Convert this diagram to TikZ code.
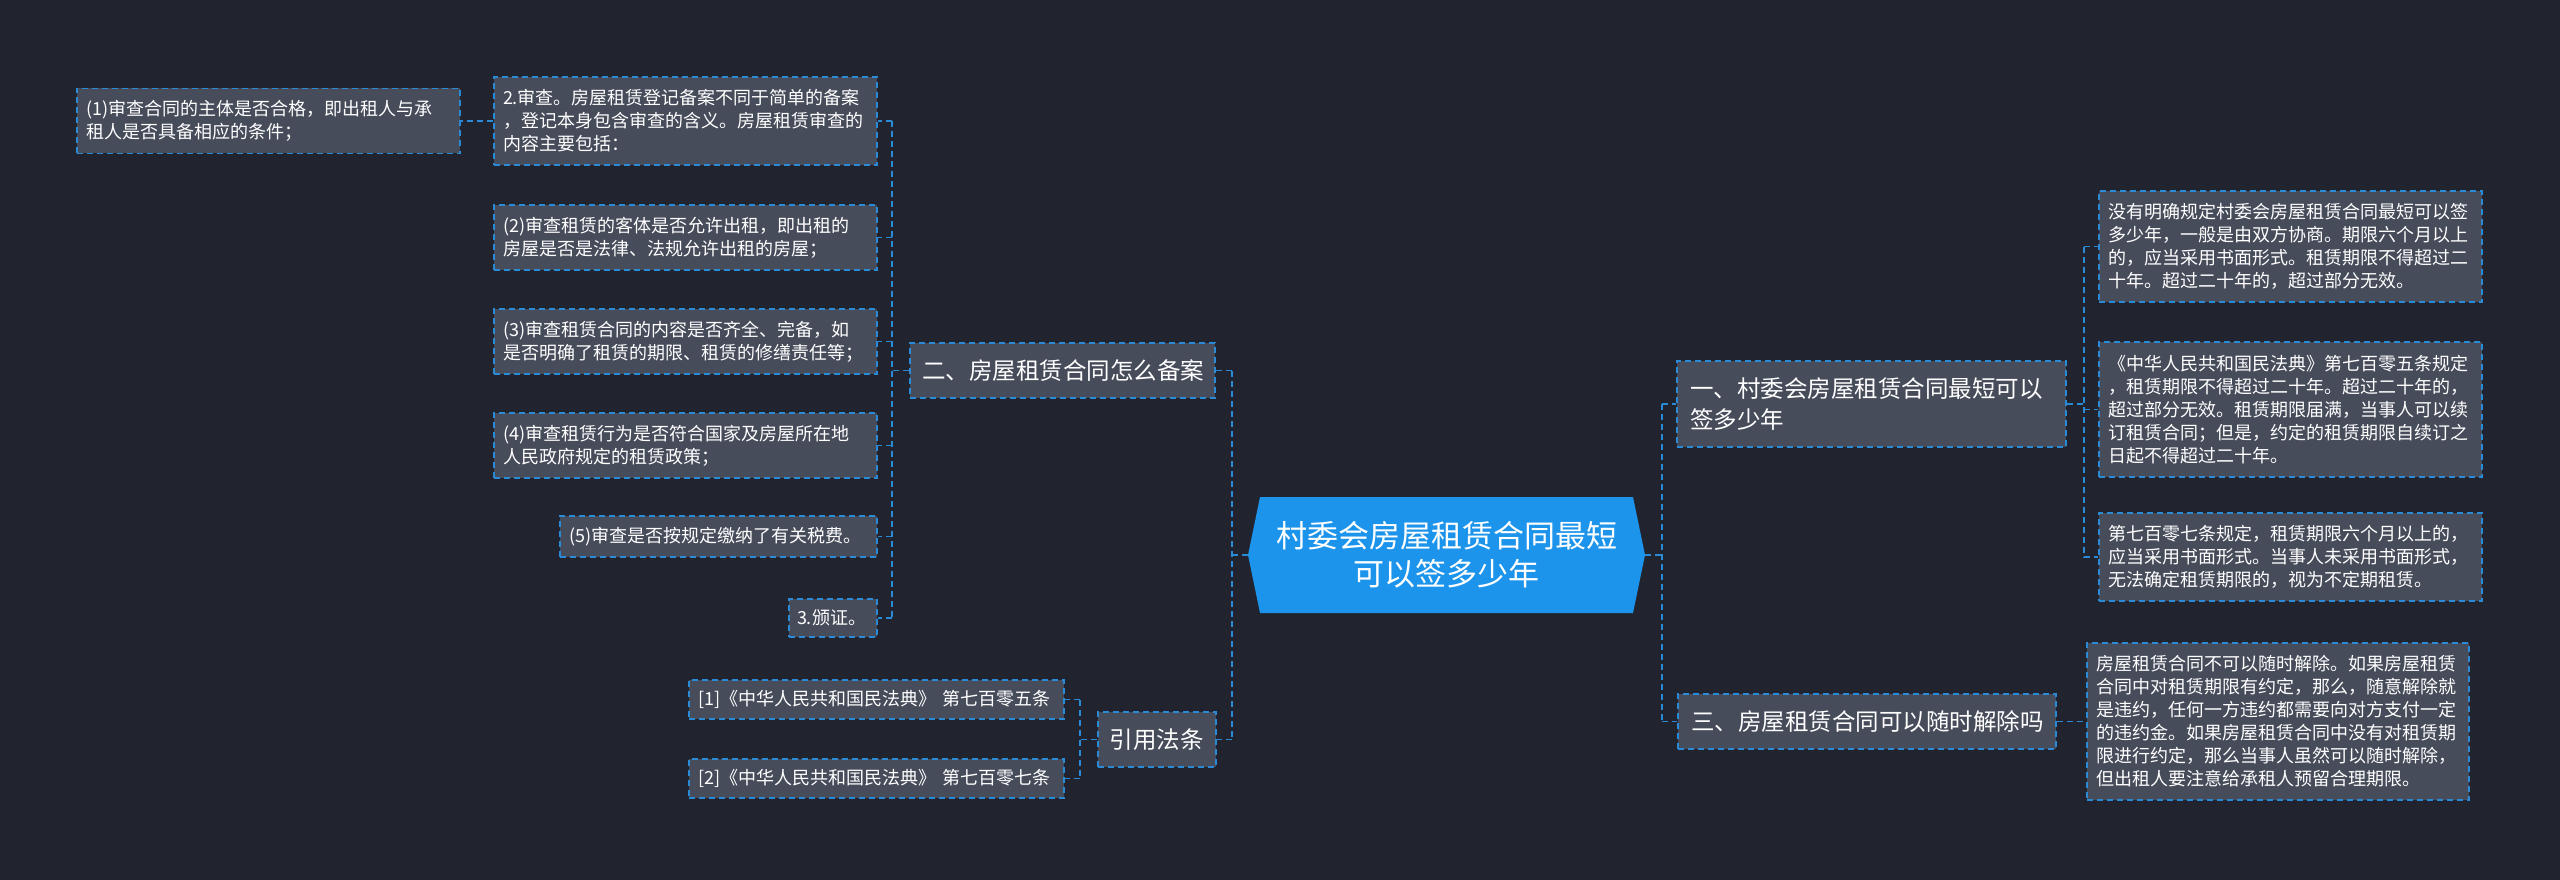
\documentclass[tikz,border=0pt]{standalone}
\usepackage{fontspec}
\newfontfamily\cjk{Noto Sans CJK SC}
\definecolor{bgcol}{RGB}{33,36,47}
\definecolor{boxfill}{RGB}{71,76,91}
\definecolor{lineblue}{RGB}{42,138,214}
\definecolor{centerfill}{RGB}{28,148,235}
\tikzset{
  conn/.style={draw=lineblue, line width=1.8pt, dash pattern=on 6pt off 4pt},
  box/.style={draw=lineblue, line width=1.8pt, dash pattern=on 6pt off 4pt, fill=boxfill, text=white, inner sep=0pt, align=left},
  ltwo/.style={box, font=\cjk\fontsize{18}{23}\selectfont},
  lone/.style={box, font=\cjk\fontsize{23.5}{31}\selectfont},
}
\begin{document}
\begin{tikzpicture}[x=1pt,y=-1pt]
\useasboundingbox (0,0) rectangle (2560,880);
\fill[bgcol] (0,0) rectangle (2560,880);

% center
\fill[centerfill] (1248,555) -- (1260,497) -- (1633,497) -- (1645,555) -- (1633,613) -- (1260,613) -- cycle;
\node[inner sep=0pt, minimum width=397, minimum height=116, align=center, text=white, font=\cjk\fontsize{31}{38}\selectfont] (c) at (1446.5,555) {村委会房屋租赁合同最短\\可以签多少年};

% level 1
\node[lone, minimum width=305, minimum height=55, text width=281] (n2) at (1062.5,370.5) {二、房屋租赁合同怎么备案};
\node[lone, minimum width=118, minimum height=55, text width=95] (n4) at (1157,739.5) {引用法条};
\node[lone, minimum width=389, minimum height=86, text width=363] (n1) at (1871.5,404) {一、村委会房屋租赁合同最短可以\\签多少年};
\node[lone, minimum width=378, minimum height=55, text width=352] (n3) at (1867,721.5) {三、房屋租赁合同可以随时解除吗};

% left level 2
\node[ltwo, minimum width=383, minimum height=88, text width=365] (k0) at (685.5,121) {2.审查。房屋租赁登记备案不同于简单的备案\\，登记本身包含审查的含义。房屋租赁审查的\\内容主要包括：};
\node[ltwo, minimum width=383, minimum height=65, text width=365] (k1) at (268.5,121) {(1)审查合同的主体是否合格，即出租人与承\\租人是否具备相应的条件；};
\node[ltwo, minimum width=383, minimum height=65, text width=365] (k2) at (685.5,237.5) {(2)审查租赁的客体是否允许出租，即出租的\\房屋是否是法律、法规允许出租的房屋；};
\node[ltwo, minimum width=383, minimum height=65, text width=365] (k3) at (685.5,341.5) {(3)审查租赁合同的内容是否齐全、完备，如\\是否明确了租赁的期限、租赁的修缮责任等；};
\node[ltwo, minimum width=383, minimum height=65, text width=365] (k4) at (685.5,445.5) {(4)审查租赁行为是否符合国家及房屋所在地\\人民政府规定的租赁政策；};
\node[ltwo, minimum width=317, minimum height=41, text width=299] (k5) at (718.5,536.5) {(5)审查是否按规定缴纳了有关税费。};
\node[ltwo, minimum width=88, minimum height=38, text width=72] (k6) at (833,618) {3.颁证。};

\node[ltwo, minimum width=375, minimum height=39, text width=357] (r1) at (876.5,699.5) {[1]《中华人民共和国民法典》 第七百零五条};
\node[ltwo, minimum width=375, minimum height=39, text width=357] (r2) at (876.5,778.5) {[2]《中华人民共和国民法典》 第七百零七条};

% right level 2
\node[ltwo, minimum width=383, minimum height=111, text width=365] (A) at (2290.5,246.5) {没有明确规定村委会房屋租赁合同最短可以签\\多少年，一般是由双方协商。期限六个月以上\\的，应当采用书面形式。租赁期限不得超过二\\十年。超过二十年的，超过部分无效。};
\node[ltwo, minimum width=383, minimum height=135, text width=365] (B) at (2290.5,409.5) {《中华人民共和国民法典》第七百零五条规定\\，租赁期限不得超过二十年。超过二十年的，\\超过部分无效。租赁期限届满，当事人可以续\\订租赁合同；但是，约定的租赁期限自续订之\\日起不得超过二十年。};
\node[ltwo, minimum width=383, minimum height=88, text width=365] (C) at (2290.5,557) {第七百零七条规定，租赁期限六个月以上的，\\应当采用书面形式。当事人未采用书面形式，\\无法确定租赁期限的，视为不定期租赁。};
\node[ltwo, minimum width=382, minimum height=157, text width=364] (D) at (2278,721.5) {房屋租赁合同不可以随时解除。如果房屋租赁\\合同中对租赁期限有约定，那么，随意解除就\\是违约，任何一方违约都需要向对方支付一定\\的违约金。如果房屋租赁合同中没有对租赁期\\限进行约定，那么当事人虽然可以随时解除，\\但出租人要注意给承租人预留合理期限。};

% connectors: center left
\draw[conn] (c.west) -- ++(-16,0) coordinate (jl);
\draw[conn] (jl |- n2.east) -- (jl |- n4.east);
\draw[conn] (jl |- n2.east) -- (n2.east);
\draw[conn] (jl |- n4.east) -- (n4.east);
% center right
\draw[conn] (c.east) -- ++(17,0) coordinate (jr);
\draw[conn] (jr |- n1.west) -- (jr |- n3.west);
\draw[conn] (jr |- n1.west) -- (n1.west);
\draw[conn] (jr |- n3.west) -- (n3.west);
% n2 children
\draw[conn] (n2.west) -- ++(-17,0) coordinate (j2);
\draw[conn] (j2 |- k0.east) -- (j2 |- k6.east);
\foreach \k in {k0,k2,k3,k4,k5,k6} {\draw[conn] (j2 |- \k.east) -- (\k.east);}
\draw[conn] (k0.west) -- (k1.east);
% n4 children
\draw[conn] (n4.west) -- ++(-17,0) coordinate (j4);
\draw[conn] (j4 |- r1.east) -- (j4 |- r2.east);
\draw[conn] (j4 |- r1.east) -- (r1.east);
\draw[conn] (j4 |- r2.east) -- (r2.east);
% n1 children
\draw[conn] (n1.east) -- ++(17,0) coordinate (j1);
\draw[conn] (j1 |- A.west) -- (j1 |- C.west);
\foreach \k in {A,B,C} {\draw[conn] (j1 |- \k.west) -- (\k.west);}
% n3 child
\draw[conn] (n3.east) -- (D.west);
\end{tikzpicture}
\end{document}
